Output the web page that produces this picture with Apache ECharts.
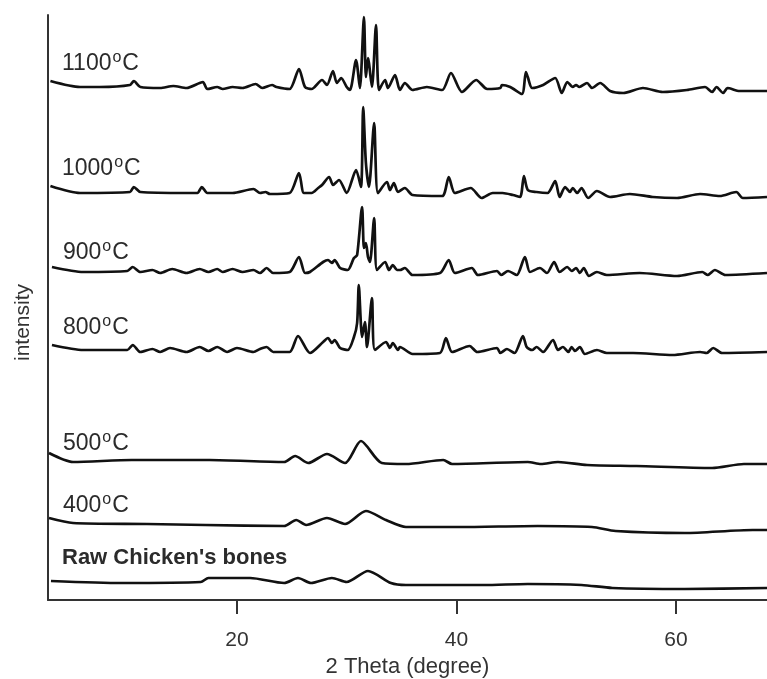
<!DOCTYPE html>
<html>
<head>
<meta charset="utf-8">
<script src="https://cdn.jsdelivr.net/npm/echarts@6/dist/echarts.min.js"></script>
<style>
html,body{margin:0;padding:0;background:#fff;}
#chart{width:767px;height:679px;}
</style>
</head>
<body>
<div id="chart"></div>
<script>
// 2θ (degree) vs intensity (arbitrary units, stacked offsets included)
const xTicks = [20, 40, 60];
const sampleNames = ['1100', '1000', '900', '800', '500', '400', "Raw Chicken's bones"];

const s1100 = [[3.0,519],[5.7,513],[7.5,513],[10.25,515],[10.6,519],[11.2,513],[13.0,512],[14.2,514],[15.4,512],[16.6,517],[16.9,518],[17.3,511],[18.2,513],[18.7,511],[19.6,513],[20.5,512],[21.7,516],[22.3,512],[23.2,515],[23.6,513],[24.8,511],[25.65,531],[26.2,513],[26.8,511],[27.75,520],[28.2,515],[28.75,529],[29.1,517],[29.5,522],[30.0,513],[30.3,510],[30.85,540],[31.2,512],[31.57,583],[31.75,523],[31.94,542],[32.3,513],[32.67,575],[32.94,510],[33.5,520],[33.76,512],[34.4,525],[34.85,510],[35.3,517],[36.0,510],[37.3,513],[38.7,510],[39.5,527],[40.5,508],[41.8,520],[42.8,511],[44.0,512],[44.15,515],[44.9,513],[45.97,506],[46.33,528],[46.5,523],[46.9,512],[47.9,515],[49.0,522],[49.6,507],[50.1,518],[50.6,513],[50.9,515],[51.2,513],[51.9,517],[52.35,512],[53.1,517],[54.0,509],[55.2,507],[57.0,512],[58.8,508],[61.0,510],[62.65,513],[63.3,508],[63.7,513],[64.3,507],[64.7,512],[65.8,509],[68.3,509]];

const s1000 = [[3.0,414],[5.7,407],[10.25,408],[10.6,413],[11.2,408],[15.4,407],[16.4,407],[16.8,413],[17.3,407],[19.6,407],[21.5,411],[22.1,407],[22.6,408],[23.0,406],[24.8,407],[25.65,427],[26.1,407],[26.8,407],[27.4,412],[27.75,415],[28.4,423],[28.75,415],[29.3,420],[30.0,407],[30.85,430],[31.3,413],[31.5,493],[31.75,437],[32.03,413],[32.5,477],[32.85,407],[33.67,418],[33.94,410],[34.3,417],[34.67,408],[35.3,412],[36.0,405],[38.7,404],[39.3,423],[39.86,407],[41.3,412],[42.3,402],[43.3,407],[44.2,407],[45.15,405],[45.8,403],[46.15,424],[46.5,410],[47.3,408],[48.3,407],[49.0,419],[49.4,403],[49.9,413],[50.35,408],[50.6,412],[51.0,407],[51.4,412],[52.0,402],[52.8,409],[54.0,403],[55.8,406],[57.9,403],[60.1,402],[62.2,406],[64.0,404],[65.5,408],[66.1,402],[68.3,403]];

const s900 = [[3.14,333],[6.0,328],[10.0,329],[10.5,333],[11.2,328],[12.3,330],[13.0,327],[14.1,331],[15.4,327],[16.6,331],[17.4,328],[18.2,331],[18.7,328],[19.6,331],[20.5,328],[21.5,330],[22.1,327],[22.7,332],[23.3,327],[24.8,328],[25.65,343],[26.2,327],[26.65,328],[27.85,338],[28.3,340],[28.65,337],[28.9,340],[29.4,332],[30.1,330],[30.66,342],[30.95,345],[31.4,393],[31.57,352],[31.75,357],[31.94,343],[32.12,338],[32.5,382],[32.76,330],[33.5,338],[33.85,330],[34.2,335],[34.58,330],[34.85,330],[35.3,332],[36.0,325],[38.5,327],[39.3,340],[39.86,327],[41.4,332],[41.96,325],[43.7,329],[44.06,325],[44.7,329],[45.5,325],[46.24,343],[46.7,328],[47.6,332],[48.25,327],[48.9,338],[49.4,328],[50.1,333],[50.5,329],[50.9,332],[51.25,327],[51.6,332],[52.07,324],[52.8,328],[53.7,325],[56.7,327],[60.1,324],[62.4,328],[62.9,325],[63.55,330],[64.5,325],[68.3,327]];

const s800 = [[3.14,255],[6.0,250],[10.0,250],[10.5,255],[11.2,248],[12.3,251],[13.0,248],[13.9,252],[15.4,248],[16.6,253],[17.4,249],[18.2,253],[19.1,248],[20.0,252],[21.5,248],[22.1,251],[22.7,253],[23.3,248],[24.8,248],[25.56,264],[26.65,247],[27.85,258],[28.3,262],[28.65,257],[28.9,260],[29.4,252],[30.1,250],[30.66,263],[30.95,277],[31.1,315],[31.4,263],[31.66,278],[31.85,253],[32.3,302],[32.57,250],[33.58,258],[33.94,252],[34.2,257],[34.67,250],[34.85,253],[36.0,246],[38.5,247],[39.04,262],[39.6,248],[41.2,254],[41.9,248],[43.7,252],[44.0,247],[44.6,251],[45.3,247],[46.06,264],[46.4,253],[46.9,250],[47.3,253],[47.9,248],[48.8,260],[49.25,250],[49.7,253],[50.2,248],[50.5,253],[50.8,249],[51.25,253],[51.7,246],[52.8,250],[53.7,247],[56.1,247],[59.7,245],[62.2,248],[62.8,247],[63.4,252],[64.2,247],[68.3,248]];

const s500 = [[2.87,147],[5.06,138],[10.4,140],[17.5,140],[24.3,138],[25.3,144],[26.5,137],[28.2,146],[29.85,137],[31.3,159],[33.2,137],[35.4,136],[38.8,140],[39.6,136],[46.5,138],[47.7,136],[49.25,138],[51.9,135],[56.4,134],[63.3,132],[66.2,136],[68.3,136]];

const s400 = [[2.87,82],[5.06,77],[11.8,76],[17.1,75],[24.3,74],[25.4,80],[26.3,75],[28.2,82],[29.85,76],[31.75,89],[33.58,80],[35.4,73],[40.3,73],[47.4,74],[52.35,73],[54.5,69],[60.8,67],[67.0,70],[68.3,70]];

const sRaw = [[3.05,19],[9.5,17],[16.7,18],[17.4,22],[21.2,22],[24.3,17],[25.56,22],[26.75,17],[28.65,22],[30.0,18],[31.94,29],[34.03,17],[35.4,15],[42.5,15],[46.5,16],[51.4,15],[54.2,12],[60.8,11],[68.3,12]];

const allSeries = [s1100, s1000, s900, s800, s500, s400, sRaw];

const chart = echarts.init(document.getElementById('chart'), null, {renderer: 'canvas'});

const FONT = '"Liberation Sans", Arial, sans-serif';
const labelPos = [[62, 64], [62, 169], [63, 253], [63, 328], [63, 444], [63, 505.5], [62, 558]];

const graphics = sampleNames.map((name, i) => {
  const isRaw = i === sampleNames.length - 1;
  return {
    type: 'text',
    x: labelPos[i][0],
    y: labelPos[i][1],
    z: 10,
    style: {
      text: isRaw ? name : name + '{s|o}C',
      fill: '#2b2b2b',
      font: (isRaw ? 'bold 22px ' : '23px ') + FONT,
      align: 'left',
      verticalAlign: 'middle',
      rich: {
        s: {fontSize: 16, fontFamily: FONT, fill: '#2b2b2b', padding: [0, 1, 12, 1]}
      }
    }
  };
});

chart.setOption({
  animation: false,
  backgroundColor: '#fff',
  grid: {left: 48, right: 0, top: 15, bottom: 79, containLabel: false, outerBoundsMode: 'none'},
  xAxis: {
    type: 'value',
    min: 2.78,
    max: 68.3,
    name: '2 Theta (degree)',
    nameLocation: 'middle',
    nameGap: 54,
    nameTextStyle: {fontSize: 22, color: '#333', fontFamily: FONT},
    axisLine: {show: true, onZero: false, lineStyle: {color: '#333', width: 2}},
    axisTick: {show: true, inside: false, length: 14, customValues: xTicks, lineStyle: {color: '#333', width: 2}},
    axisLabel: {customValues: xTicks, fontSize: 21, color: '#333', margin: 30, fontFamily: FONT},
    splitLine: {show: false}
  },
  yAxis: {
    type: 'value',
    min: 0,
    max: 585,
    name: 'intensity',
    nameLocation: 'middle',
    nameGap: 14,
    nameTextStyle: {fontSize: 21, color: '#333', fontFamily: FONT, padding: [0, 30, 0, 0]},
    axisLine: {show: true, lineStyle: {color: '#333', width: 2}},
    axisTick: {show: false},
    axisLabel: {show: false},
    splitLine: {show: false}
  },
  series: allSeries.map((d, i) => ({
    type: 'line',
    name: sampleNames[i],
    data: d,
    showSymbol: false,
    smooth: 0.25,
    clip: false,
    lineStyle: {color: '#111', width: 2.7},
    silent: true
  })),
  graphic: graphics
});
</script>
</body>
</html>
